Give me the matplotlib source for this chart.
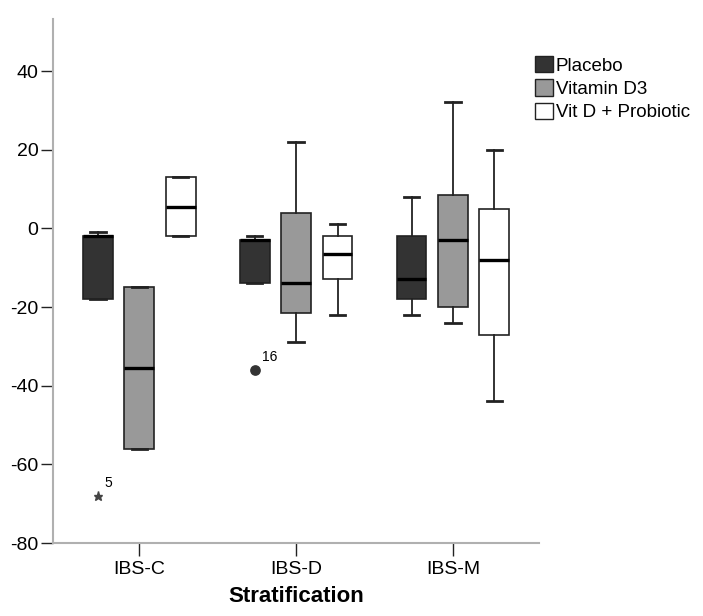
import numpy as np
import matplotlib.pyplot as plt
from matplotlib.patches import Patch

plt.rcParams['font.family'] = ['Liberation Sans', 'DejaVu Sans']
plt.rcParams['axes.unicode_minus'] = False

categories = ['IBS-C', 'IBS-D', 'IBS-M']
groups = ['Placebo', 'Vitamin D3', 'Vit D + Probiotic']
colors = ['#333333', '#999999', '#ffffff']

# per group: rows = groups, columns = categories
whis_hi = [[-1, -2, 8], [-15, 22, 32], [13, 1, 20]]
q3 = [[-2, -3, -2], [-15, 4, 8.5], [13, -2, 5]]
median = [[-2, -3, -13], [-35.5, -14, -3], [5.5, -6.5, -8]]
q1 = [[-18, -14, -18], [-56, -21.5, -20], [-2, -13, -27]]
whis_lo = [[-18, -14, -22], [-56, -29, -24], [-2, -22, -44]]

# outliers: (category index, group index, value, case label, marker)
outliers = [(0, 0, -68, '5', '*'), (1, 0, -36, '16', 'o')]

fig, ax = plt.subplots(figsize=(7.03, 6.16), dpi=100)
fig.subplots_adjust(left=0.0754, right=0.767, bottom=0.1185, top=0.969)

offset = 0.264
width = 0.19
for g in range(3):
    stats = []
    for c in range(3):
        stats.append(dict(med=median[g][c], q1=q1[g][c], q3=q3[g][c],
                          whislo=whis_lo[g][c], whishi=whis_hi[g][c], fliers=[]))
    pos = np.arange(3) + (g - 1) * offset
    ax.bxp(stats, positions=pos, widths=width, patch_artist=True, showfliers=False,
           boxprops=dict(facecolor=colors[g], edgecolor='#222222', linewidth=1.2),
           medianprops=dict(color='black', linewidth=2.4),
           whiskerprops=dict(color='#222222', linewidth=1.3),
           capprops=dict(color='#222222', linewidth=2),
           capwidths=width * 0.52)

for c, g, v, lab, m in outliers:
    x = c + (g - 1) * offset
    if m == '*':
        ax.plot(x, v, marker='*', color='#444444', markersize=6.5, linestyle='none')
    else:
        ax.plot(x, v, marker='o', color='#333333', markersize=6.7, linestyle='none')
    ax.annotate(lab, (x, v), xytext=(5, 9), textcoords='offset points',
                fontsize=10, ha='left', va='center')

ax.set_xlim(-0.55, 2.55)
ax.set_ylim(-80, 53.2)
ax.set_yticks([-80, -60, -40, -20, 0, 20, 40])
ax.set_xticks(range(3))
ax.set_xticklabels(categories)
ax.tick_params(axis='both', length=9, width=1, color='#222222', labelsize=14)
ax.tick_params(axis='x', pad=4)
ax.tick_params(axis='y', pad=1.5)
for s in ['top', 'right']:
    ax.spines[s].set_visible(False)
for s in ['left', 'bottom']:
    ax.spines[s].set_color('#b0b0b0')
    ax.spines[s].set_linewidth(1.5)

ax.set_xlabel('Stratification', fontsize=16, fontweight='bold', labelpad=6)

handles = [Patch(facecolor=colors[i], edgecolor='#222222', linewidth=1) for i in range(3)]
fig.legend(handles, groups, loc='upper left', bbox_to_anchor=(0.748, 0.924),
           frameon=False, fontsize=13.5, handlelength=0.95, handleheight=0.95,
           handletextpad=0.15, labelspacing=0.25, borderpad=0)

fig.savefig('out.png')
